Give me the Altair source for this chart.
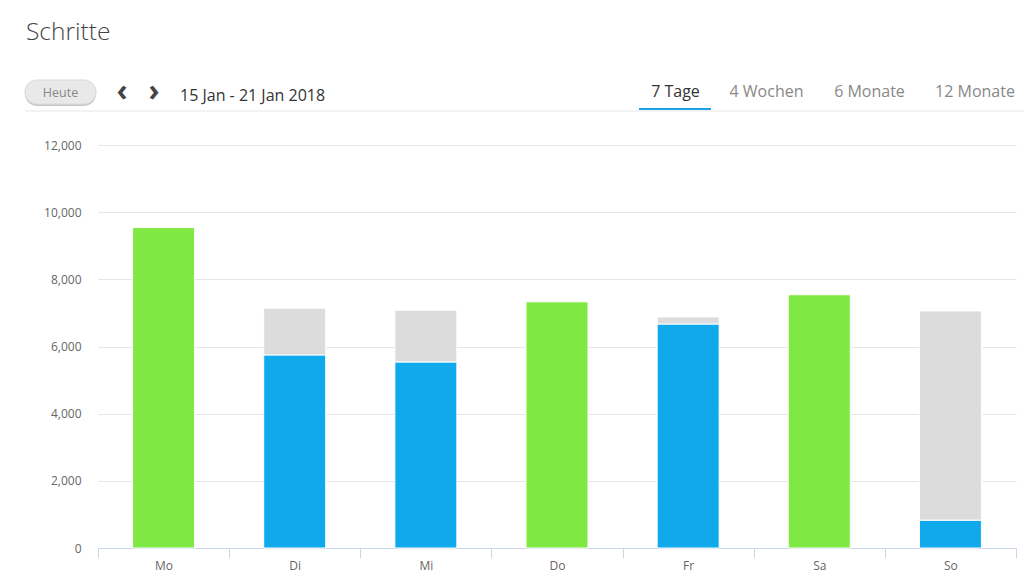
import altair as alt
import pandas as pd

# ---- data ----
days = ["Mo", "Di", "Mi", "Do", "Fr", "Sa", "So"]
steps = [9540, 5750, 5540, 7330, 6670, 7540, 830]
remaining = [0, 1390, 1540, 0, 210, 0, 6230]
goal_met = [True, False, False, True, False, True, False]

y_ticks = [0, 2000, 4000, 6000, 8000, 10000, 12000]
tabs = ["7 Tage", "4 Wochen", "6 Monate", "12 Monate"]
title_text = "Schritte"
date_range = "15 Jan - 21 Jan 2018"
today_label = "Heute"

rows = []
for d, s, r, g in zip(days, steps, remaining, goal_met):
    rows.append({"Tag": d, "Art": "erreicht" if g else "Schritte", "Wert": s, "k": 0})
    if r > 0:
        rows.append({"Tag": d, "Art": "Rest", "Wert": r, "k": 1})
df = pd.DataFrame(rows)

FONT = "Open Sans"

bars = alt.Chart(df).mark_bar(size=62, stroke="white", strokeWidth=1).encode(
    x=alt.X("Tag:N", sort=days, title=None,
            scale=alt.Scale(paddingInner=0, paddingOuter=0),
            axis=alt.Axis(labelAngle=0, tickBand="extent", tickSize=10,
                          domainColor="#ccd6eb", tickColor="#ccd6eb",
                          labelColor="#666666", labelFont=FONT, labelFontSize=12,
                          labelPadding=2, grid=False)),
    y=alt.Y("Wert:Q", stack="zero", title=None,
            scale=alt.Scale(domain=[0, 12000], nice=False),
            axis=alt.Axis(values=y_ticks, format=",d", domain=False, ticks=False,
                          gridColor="#e6e6e6", labelColor="#666666", labelFont=FONT,
                          labelFontSize=12, labelPadding=17)),
    color=alt.Color("Art:N", legend=None,
                    scale=alt.Scale(domain=["erreicht", "Schritte", "Rest"],
                                    range=["#80e842", "#10a9ec", "#dcdcdc"])),
    order=alt.Order("k:Q", sort="ascending"),
)

one = alt.Data(values=[{}])

def txt(text, x, y, size, color, align="left", weight="normal"):
    return alt.Chart(one).mark_text(text=text, align=align, baseline="alphabetic",
                                    font=FONT, fontSize=size, color=color,
                                    fontWeight=weight).encode(
        x=alt.value(x), y=alt.value(y))

layers = [bars]

# title
layers.append(txt(title_text, -72, -105, 24.5, "#444444", weight=300))

# header separator line
layers.append(alt.Chart(one).mark_rule(color="#e6e6e6", strokeWidth=1).encode(
    x=alt.value(-73), x2=alt.value(926), y=alt.value(-34)))

# Heute button (shadow + body)
layers.append(alt.Chart(one).mark_rect(cornerRadius=12, color="#c8c8c8").encode(
    x=alt.value(-73), x2=alt.value(-2), y=alt.value(-63), y2=alt.value(-39)))
layers.append(alt.Chart(one).mark_rect(cornerRadius=12, color="#e9e9e9",
                                       stroke="#dadada", strokeWidth=1).encode(
    x=alt.value(-73), x2=alt.value(-2), y=alt.value(-65), y2=alt.value(-41)))
layers.append(txt(today_label, -37.5, -48.5, 12.5, "#888888", align="center"))

# arrows
layers.append(txt("‹", 24, -44, 30, "#444444", align="center", weight="bold"))
layers.append(txt("›", 56, -44, 30, "#444444", align="center", weight="bold"))

# date range
layers.append(txt(date_range, 82, -44, 16, "#333333"))

# tabs
tab_x = [577.5, 668.5, 771.5, 877]
for i, (t, tx) in enumerate(zip(tabs, tab_x)):
    layers.append(txt(t, tx, -48, 16, "#333333" if i == 0 else "#888888", align="center"))

# active tab underline
layers.append(alt.Chart(one).mark_rule(color="#1ba3e8", strokeWidth=2).encode(
    x=alt.value(541), x2=alt.value(613), y=alt.value(-36)))

chart = alt.layer(*layers).properties(
    width=918, height=403,
    padding={"left": 98, "top": 145, "right": 8, "bottom": 32},
    autosize=alt.AutoSizeParams(type="none"),
    background="white",
).configure_view(stroke=None)

chart.save("out.html", embed_options={"renderer": "svg", "actions": False})
